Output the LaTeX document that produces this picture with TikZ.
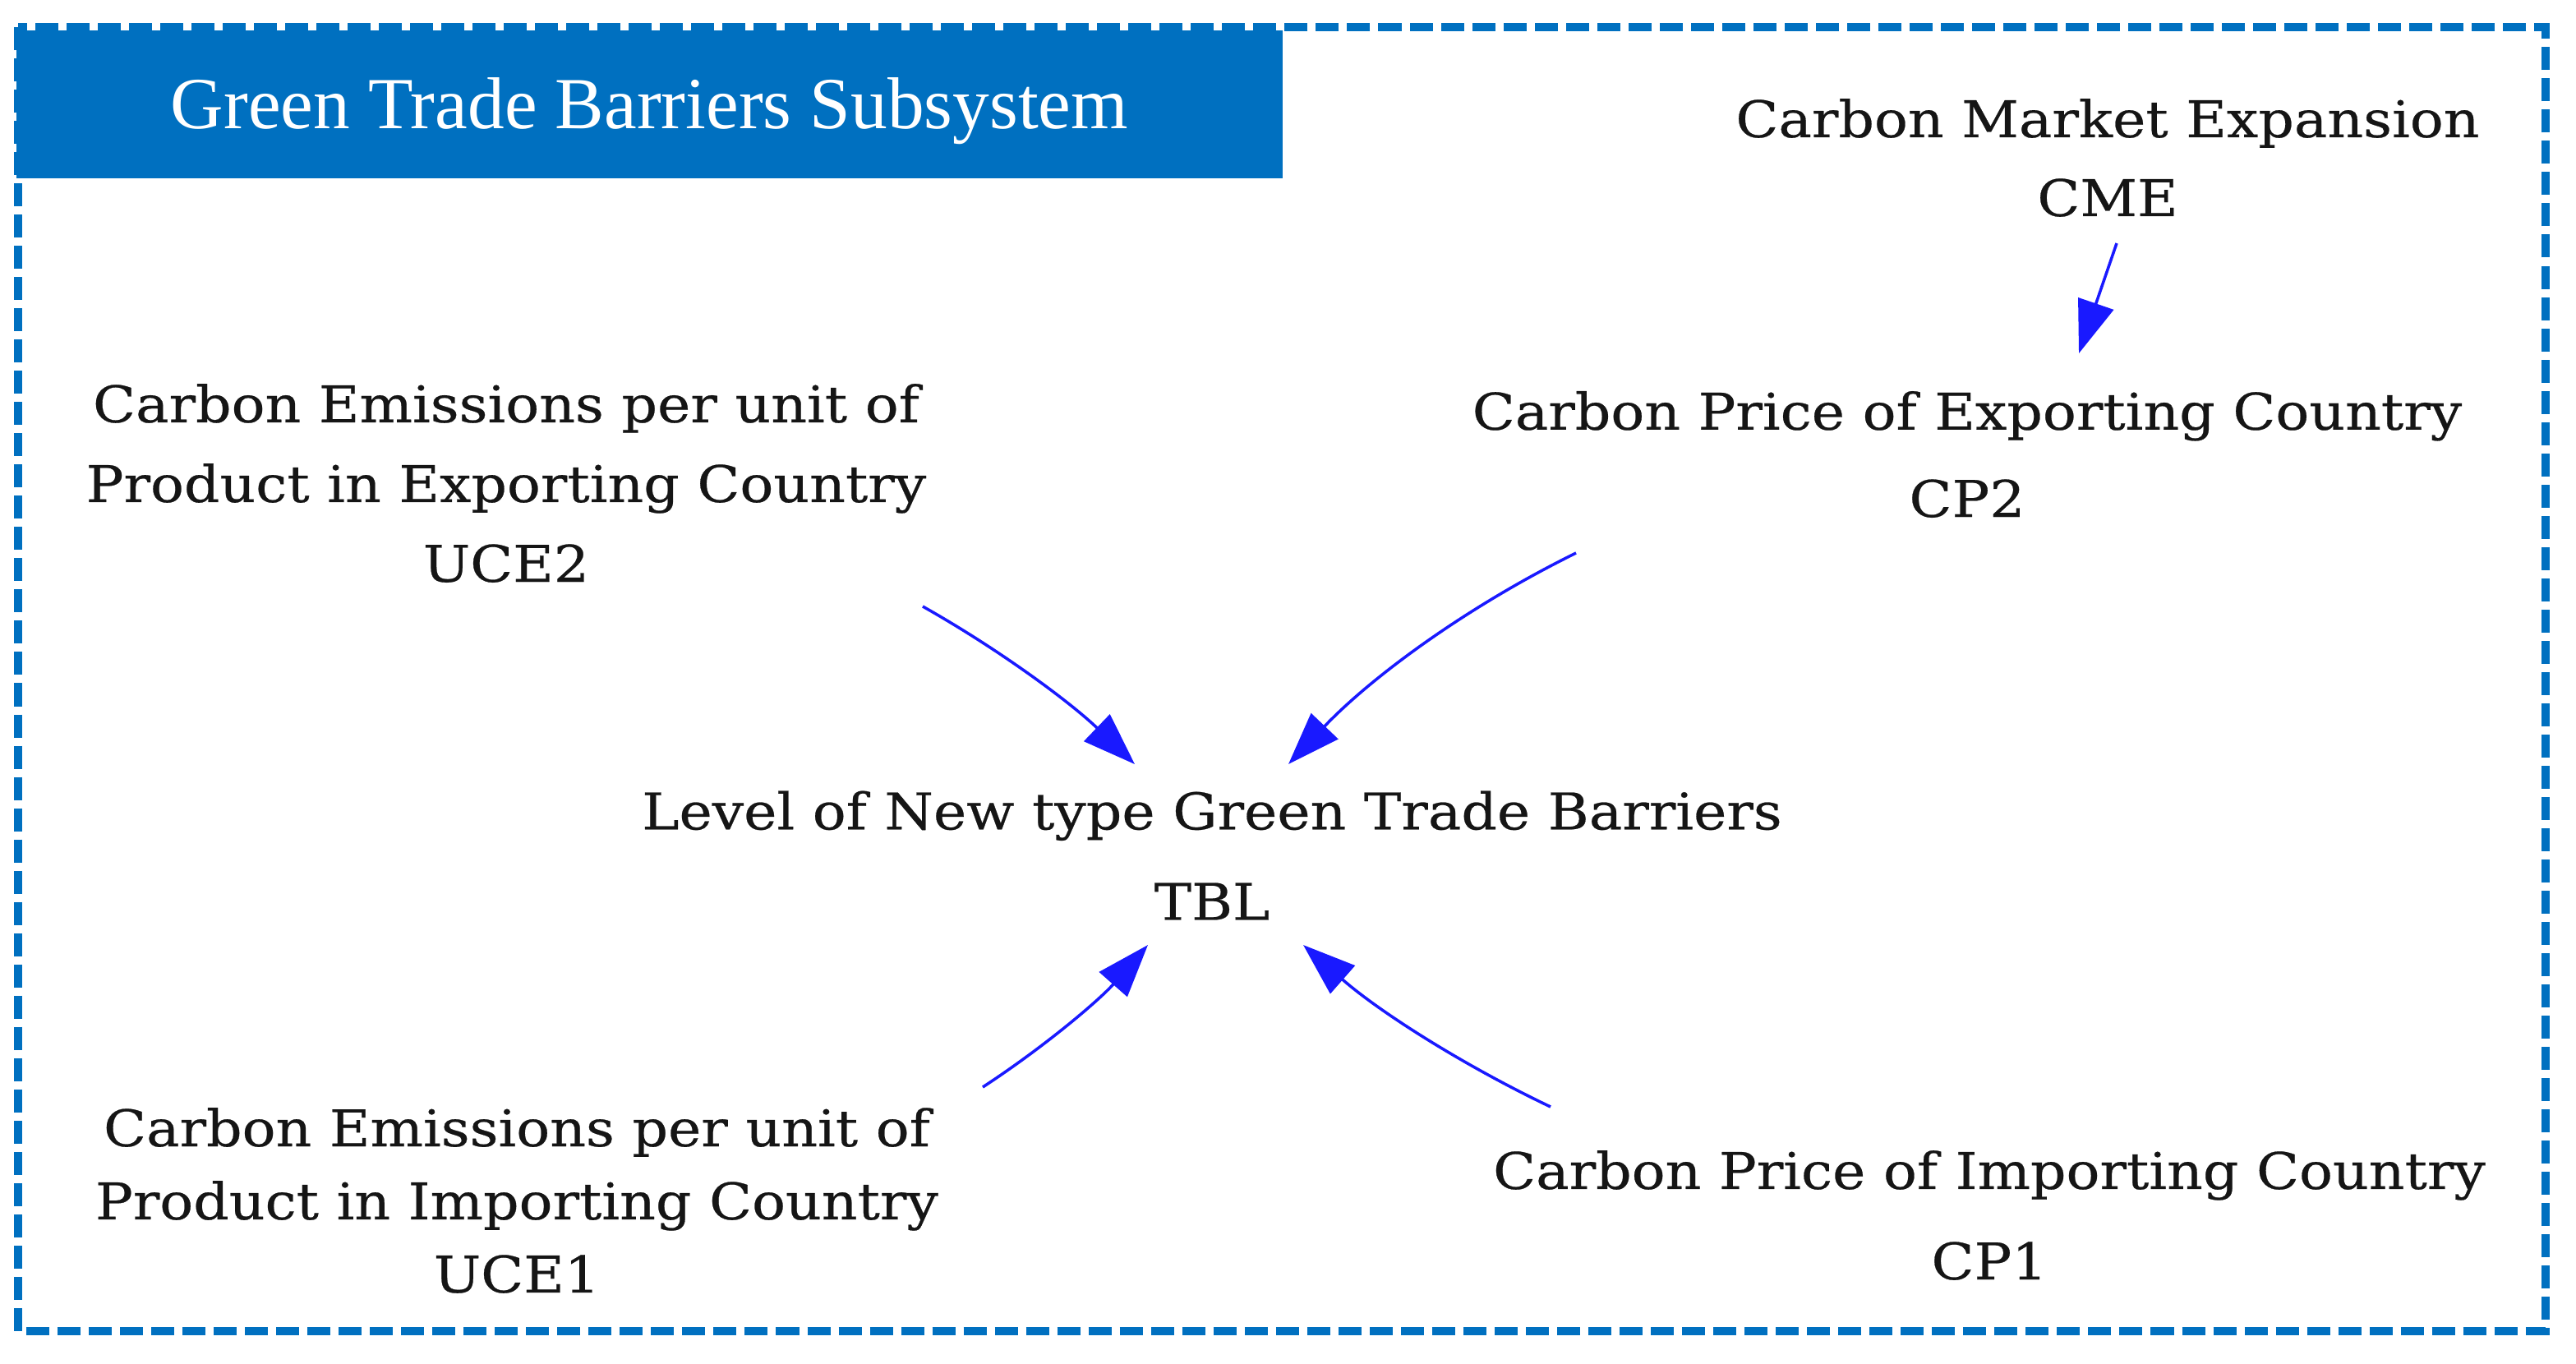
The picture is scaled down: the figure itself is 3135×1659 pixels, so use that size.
\documentclass[tikz,border=0pt]{standalone}
\usepackage{fontspec}
\setmainfont{Liberation Serif}
\newfontfamily\labfont[FakeStretch=1.105,FakeBold=0.4]{DejaVu Serif}
\usetikzlibrary{arrows.meta,calc}
\definecolor{framebl}{HTML}{0070C0}
\definecolor{arrbl}{RGB}{25,25,255}
\definecolor{txt}{HTML}{151515}
\begin{document}
\begin{tikzpicture}[x=0.01cm,y=-0.01cm,
  lab/.style={align=center, text=txt, inner sep=0pt},
  arr/.style={draw=arrbl, line width=1pt, -{Triangle[length=0.64cm,width=0.45cm]}},
]
\useasboundingbox (0,0) rectangle (3135,1659);
\draw[framebl, line width=2.8pt, dash pattern=on 0.28cm off 0.10cm] (22,33) rectangle (3098,1620);
\node[fill=framebl, text=white, inner sep=0pt, minimum width=15.41cm, minimum height=1.80cm,
      text height=16.8pt, text depth=0pt,
      font=\fontsize{25.4}{30}\selectfont] (title) at (790.5,127) {Green Trade Barriers Subsystem};

\node[lab, font=\labfont\fontsize{17.5}{27.3}\selectfont] (cme) at (2565,192) {Carbon Market Expansion\\CME};
\node[lab, font=\labfont\fontsize{17.5}{30.2}\selectfont] (cp2) at (2394,553) {Carbon Price of Exporting Country\\CP2};
\node[lab, font=\labfont\fontsize{17.5}{27.6}\selectfont] (uce2) at (616,588) {Carbon Emissions per unit of\\Product in Exporting Country\\UCE2};
\node[lab, font=\labfont\fontsize{17.5}{31.3}\selectfont] (tbl) at (1475,1041) {Level of New type Green Trade Barriers\\TBL};
\node[lab, font=\labfont\fontsize{17.5}{25.3}\selectfont] (uce1) at (629,1461) {Carbon Emissions per unit of\\Product in Importing Country\\UCE1};
\node[lab, font=\labfont\fontsize{17.5}{31.3}\selectfont] (cp1) at (2421,1479) {Carbon Price of Importing Country\\CP1};

\draw[arr] ($(cme)+(11,104)$) -- ($(cp2)+(136,-123)$);
\draw[arr] ($(uce2)+(507,150)$) .. controls +(94,53) and +(-78,-75) .. ($(tbl)+(-94,-111)$);
\draw[arr] ($(cp2)+(-476,120)$) .. controls +(-132,65) and +(102,-107) .. ($(tbl)+(93,-111)$);
\draw[arr] ($(uce1)+(567,-138)$) .. controls +(75,-49) and +(-59,67) .. ($(tbl)+(-78,109)$);
\draw[arr] ($(cp1)+(-534,-132)$) .. controls +(-109,-52) and +(91,80) .. ($(tbl)+(111,109)$);
\end{tikzpicture}
\end{document}
